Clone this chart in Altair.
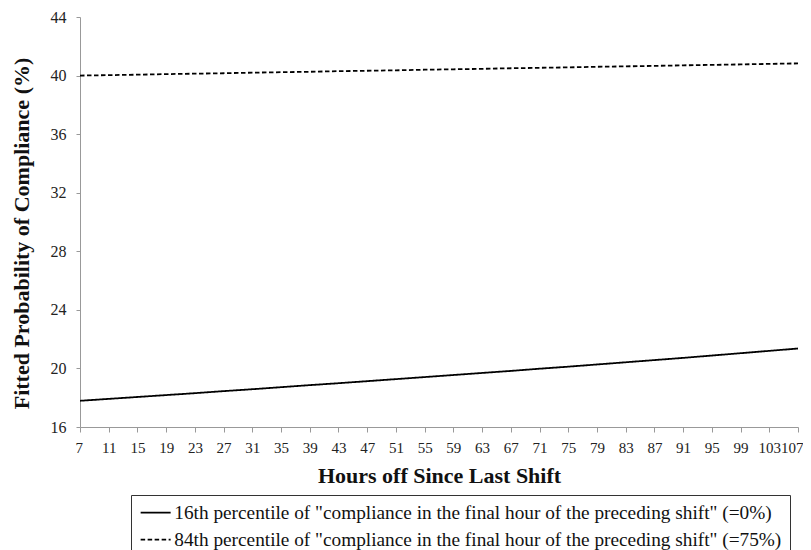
import altair as alt
import pandas as pd

hours = [7, 11, 15, 19, 23, 27, 31, 35, 39, 43, 47, 51, 55, 59, 63, 67, 71, 75, 79, 83, 87, 91, 95, 99, 103, 107]
p16 = [17.79, 17.92, 18.05, 18.18, 18.31, 18.45, 18.58, 18.72, 18.86, 18.99, 19.13, 19.27, 19.41,
       19.55, 19.69, 19.83, 19.98, 20.12, 20.27, 20.42, 20.57, 20.72, 20.88, 21.04, 21.20, 21.36]
p84 = [40.00, 40.03, 40.06, 40.10, 40.13, 40.16, 40.20, 40.23, 40.26, 40.30, 40.33, 40.36, 40.40,
       40.43, 40.46, 40.50, 40.53, 40.56, 40.60, 40.63, 40.66, 40.70, 40.73, 40.76, 40.80, 40.83]
series_names = [
    '16th percentile of "compliance in the final hour of the preceding shift" (=0%)',
    '84th percentile of "compliance in the final hour of the preceding shift" (=75%)',
]
y_ticks = [16, 20, 24, 28, 32, 36, 40, 44]

rows = []
for h, a, b in zip(hours, p16, p84):
    rows.append({"hours": h, "value": a, "series": series_names[0]})
    rows.append({"hours": h, "value": b, "series": series_names[1]})
df = pd.DataFrame(rows)

FONT = "Liberation Serif"

chart = alt.Chart(df).mark_line(color="black", strokeWidth=1.8).encode(
    x=alt.X("hours:Q",
            scale=alt.Scale(domain=[7, 107], nice=False, zero=False),
            axis=alt.Axis(values=hours, title="Hours off Since Last Shift", labelAngle=0,
                          labelFlush=True, labelFlushOffset=5, labelOverlap=False, grid=False,
                          labelFontSize=15, tickSize=5, labelPadding=8, titlePadding=10)),
    y=alt.Y("value:Q",
            scale=alt.Scale(domain=[16, 44], nice=False, zero=False),
            axis=alt.Axis(values=y_ticks, title="Fitted Probability of Compliance (%)",
                          grid=False, tickSize=4, labelPadding=10, titlePadding=17,
                          titleY=216)),
    strokeDash=alt.StrokeDash("series:N",
                              scale=alt.Scale(domain=series_names, range=[[1, 0], [4.5, 2.5]]),
                              legend=alt.Legend(title=None, orient="none", legendX=51, legendY=478,
                                                direction="vertical", symbolType="M-1.6,0H4.4",
                                                symbolSize=100, symbolStrokeWidth=1.8,
                                                symbolStrokeColor="black",
                                                symbolFillColor="transparent",
                                                labelFont=FONT, labelFontSize=19.3, labelColor="#111",
                                                labelLimit=1000, labelOffset=16, rowPadding=7,
                                                padding=8, strokeColor="#333", fillColor="white")),
).properties(
    width=718, height=410,
    autosize=alt.AutoSizeParams(type="none"),
    padding={"left": 72, "top": 9, "right": 5, "bottom": 123},
).configure_axis(
    labelFont=FONT, labelFontSize=16, labelColor="#222",
    titleFont=FONT, titleFontSize=22, titleFontWeight="bold", titleColor="#111",
    domainColor="#999", tickColor="#999",
).configure_view(stroke=None)

chart.save("out.html", embed_options={"renderer": "svg", "actions": False})
